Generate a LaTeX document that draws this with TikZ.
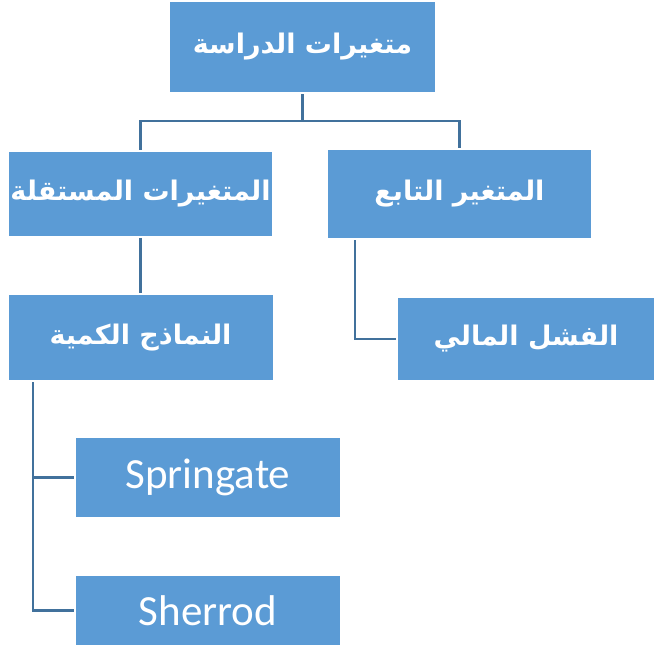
\documentclass[tikz,border=0pt]{standalone}
\usepackage{fontspec}
\setmainfont{Carlito}
\newfontfamily\arabicfont[Script=Arabic]{DejaVu Sans}
\TeXXeTstate=1
\usepackage{tikz}
\usetikzlibrary{positioning}
\definecolor{boxblue}{RGB}{91,155,213}
\definecolor{linkblue}{RGB}{65,113,156}
\newcommand{\ar}[1]{\arabicfont\bfseries\beginR #1\endR}
\tikzset{
    bluebox/.style={
        rectangle,
        draw=none,
        fill=boxblue, % 方框填充颜色
        text=white,
        inner sep=0,
        font=\fontsize{27}{32}\selectfont
    },
    latinbox/.style={
        bluebox,
        font=\fontsize{43}{50}\selectfont
    },
    link/.style={
        draw=linkblue,
        line width=2.2pt, % 连线加粗
        shorten >=2pt,
        shorten <=2pt
    }
}

\begin{document}
\begin{tikzpicture}[x=1pt, y=-1pt]
    \useasboundingbox (0,0) rectangle (654,647);
    % 第一层
    \node[bluebox, minimum width=265pt, minimum height=90pt] (study) at (302.5,47) {\ar{متغيرات الدراسة}};
    % 第二层
    \node[bluebox, minimum width=263pt, minimum height=84pt] (indep) at (140.5,194) {\ar{المتغيرات المستقلة}};
    \node[bluebox, minimum width=263pt, minimum height=88pt] (dep) at (459.5,194) {\ar{المتغير التابع}};
    % 第三层
    \node[bluebox, minimum width=264pt, minimum height=85pt] (models) at (140.5,337.5) {\ar{النماذج الكمية}};
    \node[bluebox, minimum width=256pt, minimum height=82pt] (failure) at (526,339) {\ar{الفشل المالي}};
    % 模型
    \node[latinbox, minimum width=264pt, minimum height=79pt] (springate) at (208,477.5) {Springate};
    \node[latinbox, minimum width=264pt, minimum height=69pt] (sherrod) at (208,610.5) {Sherrod};

    \coordinate (split) at (302.5,121);
    \draw[link, shorten >=0pt] (study.south) -- (split);
    \draw[link] (indep.north) |- (split) -| (dep.north);
    \draw[link] (indep.south) -- (models.north);
    \draw[link] ([xshift=27pt]dep.south west) |- (failure.west);
    \draw[link] ([xshift=25pt]models.south west) |- (springate.west);
    \draw[link] ([xshift=25pt]models.south west) |- (sherrod.west);
\end{tikzpicture}
\end{document}
